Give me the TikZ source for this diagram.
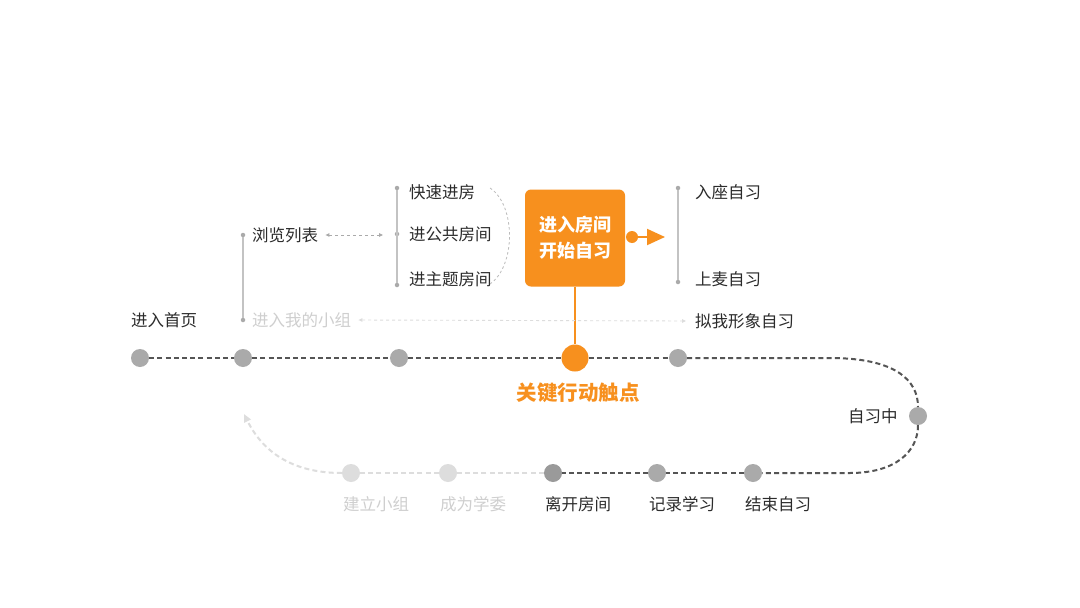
\documentclass[tikz,border=0pt]{standalone}
\usepackage{fontspec}
\setmainfont{Noto Sans CJK SC}
\usetikzlibrary{arrows.meta,positioning}
\definecolor{keyorange}{HTML}{F7901E}
\definecolor{dotgray}{HTML}{AAAAAA}
\definecolor{dotdark}{HTML}{9A9A9A}
\definecolor{dotfade}{HTML}{DDDDDD}
\definecolor{inkdark}{HTML}{2B2B2B}
\definecolor{inkfade}{HTML}{CFCFCF}
\definecolor{trackgray}{HTML}{555555}
\tikzset{
  tdot/.style={circle,fill=dotgray,minimum size=18pt,inner sep=0pt},
  fdot/.style={tdot,fill=dotfade},
  keydot/.style={circle,fill=keyorange,minimum size=27pt,inner sep=0pt},
  bead/.style={circle,fill=dotgray,minimum size=4.5pt,inner sep=0pt},
  lbl/.style={font=\fontsize{16.5}{20}\selectfont,text=inkdark,inner sep=1pt},
  fadelbl/.style={lbl,text=inkfade},
  track/.style={trackgray,line width=2pt,dash pattern=on 5pt off 3.2pt},
  fadetrack/.style={track,draw=dotfade},
  branch/.style={draw=dotgray!70,line width=1.6pt},
  hint/.style={draw=dotgray,line width=0.9pt,dash pattern=on 3pt off 3pt,
    {Triangle[length=4pt,width=3.5pt]}-{Triangle[length=4pt,width=3.5pt]}},
  keybox/.style={fill=keyorange,rounded corners=6pt,minimum width=100pt,
    minimum height=97pt,align=center,text=white,
    font=\fontsize{18}{26}\selectfont\bfseries}
}
\begin{document}
\begin{tikzpicture}[x=1pt,y=-1pt]
  \useasboundingbox[fill=white] (0,0) rectangle (1080,608);
  % journey dots
  \node[tdot] (home) at (140,358) {};
  \node[tdot] (browse) at (243,358) {};
  \node[tdot] (pick) at (399,358) {};
  \node[keydot] (key) at (575,358) {};
  \node[tdot] (study) at (678,358) {};
  \coordinate (turnA) at (830,358);
  \node[tdot] (mid) at (918,416) {};
  \coordinate (turnB) at (850,473);
  \node[tdot] (finish) at (753,473) {};
  \node[tdot] (record) at (657,473) {};
  \node[tdot,fill=dotdark] (leave) at (553,473) {};
  \node[fdot] (duty) at (448,473) {};
  \node[fdot] (group) at (351,473) {};
  \coordinate (back) at (244,414);
  \foreach \a/\b in {home/browse,browse/pick,pick/key,key/study,finish/record,record/leave}
    \draw[track] (\a) -- (\b);
  \draw[track] (study) -- (turnA) .. controls (895,358) and (918,380) .. (mid);
  \draw[track] (mid) .. controls (918,452) and (895,473) .. (turnB) -- (finish);
  \draw[fadetrack] (leave) -- (duty);
  \draw[fadetrack] (duty) -- (group);
  \draw[fadetrack,-{Triangle[length=8pt,width=7pt]}] (group)
    .. controls (290,473) and (262,450) .. (back);
  % journey labels
  \node[lbl] (homeL) at (164,320) {进入首页};
  \node[lbl,text=keyorange,font=\fontsize{20.5}{24}\selectfont\bfseries] (keyL) at (578,393) {关键行动触点};
  \node[lbl,anchor=east,left=10pt of mid] (midL) {自习中};
  \node[fadelbl,anchor=west,yshift=-31pt] (groupL) at (group.west) {建立小组};
  \node[fadelbl,anchor=west,yshift=-31pt] (dutyL) at (duty.west) {成为学委};
  \node[lbl,anchor=west,yshift=-31pt] (leaveL) at (leave.west) {离开房间};
  \node[lbl,anchor=west,yshift=-31pt] (recordL) at (record.west) {记录学习};
  \node[lbl,anchor=west,yshift=-31pt] (finishL) at (finish.west) {结束自习};
  % entry branch
  \node[bead] (listT) at (243,235) {};
  \node[bead] (listB) at (243,320) {};
  \draw[branch] (listT) -- (listB);
  \node[lbl,anchor=west] (listL) at (251,235) {浏览列表};
  \node[fadelbl,anchor=west] (myL) at (251,320) {进入我的小组};
  \coordinate (listEnd) at (383,235);
  \draw[hint] ([xshift=6pt]listL.east) -- (listEnd);
  % room choices
  \node[bead] (roomT) at (397,188) {};
  \node[bead] (roomM) at (397,234) {};
  \node[bead] (roomB) at (397,285) {};
  \draw[branch] (roomT) -- (roomB);
  \node[lbl,anchor=west] (fastL) at (408,192) {快速进房};
  \node[lbl,anchor=west] (publicL) at (408,234) {进公共房间};
  \node[lbl,anchor=west] (topicL) at (408,279) {进主题房间};
  \coordinate (arcA) at (490,188);
  \coordinate (arcB) at (490,284);
  \draw[draw=dotgray!80,line width=0.8pt,dash pattern=on 2.5pt off 2.5pt]
    (arcA) .. controls (516,205) and (516,266) .. (arcB);
  % key action
  \node[keybox] (room) at (575,238) {进入房间\\开始自习};
  \draw[keyorange,line width=2pt] (room.south) -- (key);
  \node[circle,fill=keyorange,minimum size=12pt,inner sep=0pt] (knob) at (632,237) {};
  \coordinate (knobEnd) at (665,237);
  \draw[keyorange,line width=2pt,-{Triangle[length=18pt,width=16pt]}] (knob) -- (knobEnd);
  % study modes
  \node[bead] (modeT) at (678,188) {};
  \node[bead] (modeB) at (678,282) {};
  \draw[branch] (modeT) -- (modeB);
  \node[lbl,anchor=west] (seatL) at (694,192) {入座自习};
  \node[lbl,anchor=west] (micL) at (694,279) {上麦自习};
  \node[lbl,anchor=west] (avatarL) at (694,321) {拟我形象自习};
  \draw[hint,draw=dotfade] ([xshift=6pt]myL.east) -- ([xshift=-8pt]avatarL.west);
\end{tikzpicture}
\end{document}
